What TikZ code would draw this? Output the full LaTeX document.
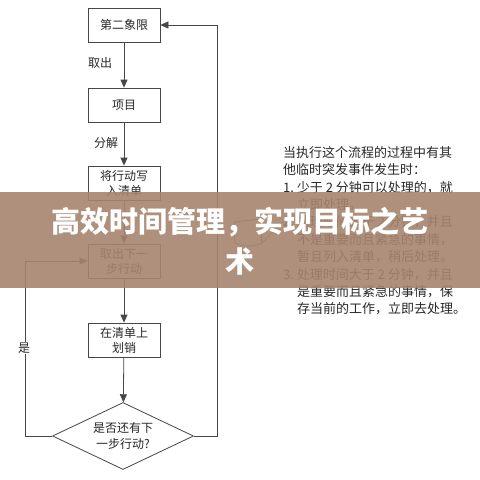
\documentclass[tikz,border=0pt]{standalone}
\usepackage{fontspec}
\newfontfamily\cjk{Noto Sans CJK SC}
\usetikzlibrary{arrows.meta,shapes.geometric,positioning}
\definecolor{linegray}{RGB}{70,70,70}
\definecolor{textgray}{RGB}{40,40,40}
\definecolor{bannerbrown}{RGB}{166,132,110}

\begin{document}
\begin{tikzpicture}[x=1pt,y=-1pt,
    box/.style={rectangle,draw=linegray,line width=0.8pt,minimum width=72pt,minimum height=34pt,align=center,inner sep=1pt,text=textgray,font=\cjk\fontsize{12}{15}\selectfont},
    decision/.style={diamond,draw=linegray,line width=0.8pt,minimum width=141pt,minimum height=67pt,aspect=2.1,inner sep=0pt,align=center,text=textgray,font=\cjk\fontsize{12}{16}\selectfont},
    arrow/.style={-{Triangle[length=8pt,width=7pt]},line width=0.8pt,draw=linegray},
    lbl/.style={text=textgray,inner sep=1pt,font=\cjk\fontsize{12}{14}\selectfont}
]
\useasboundingbox[fill=white] (0,0) rectangle (480,480);

% === Flow boxes ===
\node[box] (quad) at (124,25) {第二象限};
\node[box] (item) at (124,105) {项目};
\node[box] (list) at (124,183) {将行动写\\入清单};
\node[box] (next) at (124,261) {取出下一\\步行动};
\node[box] (cross) at (124,340) {在清单上\\划销};
\node[decision] (check) at (123,436) {是否还有下\\一步行动?};

% === Arrows down ===
\draw[arrow] (quad) -- (item);
\draw[arrow] (item) -- (list);
\draw[arrow] (list) -- (next);
\draw[arrow] (next) -- (cross);
\draw[arrow] (cross) -- (check);

\node[lbl] (takeout) at (100,63) {取出};
\node[lbl] (split) at (106,143) {分解};

% === Loops back ===
\coordinate (yesturn) at (25,436);
\coordinate (noturn) at (217,436);
\draw[arrow] (check.west) -- (yesturn) |- (next.west);
\draw[arrow] (check.east) -- (noturn) |- (quad.east);
\node[lbl,fill=white] (yes) at (24,348) {是};

% === Note sketch ===
\draw[linegray,line width=0.6pt] (234,222) -- (260,219) -- (262,243) -- (283,222);
\draw[linegray,line width=0.6pt] (234,222) -- (235,243) .. controls (245,248) and (255,246) .. (262,243);

% === Side note ===
\node[anchor=north west,inner sep=0pt,align=left,text=textgray,font=\cjk\fontsize{13}{17.4}\selectfont] (note) at (283,146) {%
当执行这个流程的过程中有其\\
他临时突发事件发生时：\\
1.\ 少于 2 分钟可以处理的，就\\
\hspace*{14pt}立即处理。\\
2.\ 处理时间大于 2 分钟，并且\\
\hspace*{14pt}不是重要而且紧急的事情，\\
\hspace*{14pt}暂且列入清单，稍后处理。\\
3.\ 处理时间大于 2 分钟，并且\\
\hspace*{14pt}是重要而且紧急的事情，保\\
\hspace*{14pt}存当前的工作，立即去处理。};

% === Title banner ===
\fill[bannerbrown,opacity=0.9] (0,192) rectangle (480,288);
\node[text=white,align=center,font=\cjk\bfseries\fontsize{29}{40}\selectfont] (title) at (240,241) {高效时间管理，实现目标之艺\\术};

\end{tikzpicture}
\end{document}
